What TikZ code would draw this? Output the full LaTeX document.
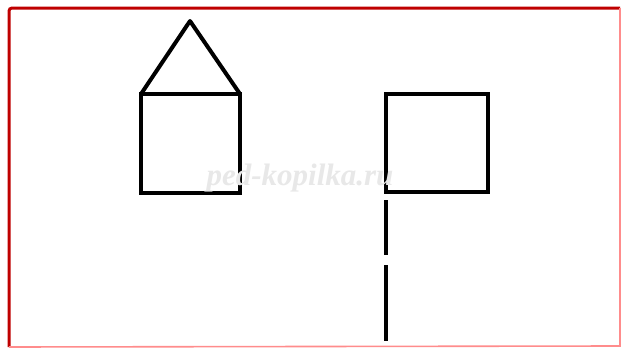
\documentclass[tikz,border=0pt]{standalone}
\usepackage{fontspec}
\setmainfont{Liberation Serif}
\begin{document}
\begin{tikzpicture}[x=1pt,y=-1pt,
  shape line/.style={line width=4pt,line join=miter,black},
  frame line/.style={line width=3pt,color=red!75!black},
  watermark/.style={text=black!9,font=\bfseries\itshape\fontsize{31}{31}\selectfont}]
\useasboundingbox (0,0) rectangle (622,348);
\fill[white] (0,0) rectangle (622,348);
% frame
\coordinate (f1) at (9,347);
\coordinate (f2) at (9,8);
\coordinate (f3) at (620,8);
\coordinate (f4) at (620,346);
\draw[frame line,rounded corners=3pt] (f1) -- (f2) -- (f3);
\draw[line width=1.6pt,color=red!45] (f3) -- (f4) -- (f1);
% house
\coordinate (hbl) at (141,193);
\coordinate (hbr) at (240,193);
\coordinate (htr) at (240,94);
\coordinate (htl) at (141,94);
\coordinate (apex) at (190,21);
\draw[shape line] (hbl) -- (hbr) -- (htr) -- (htl) -- cycle;
\draw[shape line,line join=round] (htl) -- (apex) -- (htr);
% right square
\coordinate (sbl) at (386,192);
\coordinate (sbr) at (488,192);
\coordinate (str) at (488,94);
\coordinate (stl) at (386,94);
\draw[shape line] (sbl) -- (sbr) -- (str) -- (stl) -- cycle;
% dashed trunk
\coordinate (d1a) at (386,200);
\coordinate (d1b) at (386,255);
\coordinate (d2a) at (386,265);
\coordinate (d2b) at (386,341);
\draw[line width=4pt] (d1a) -- (d1b);
\draw[line width=4pt] (d2a) -- (d2b);
% watermark
\node[watermark] (wm) at (300,178) {ped-kopilka.ru};
\end{tikzpicture}
\end{document}
